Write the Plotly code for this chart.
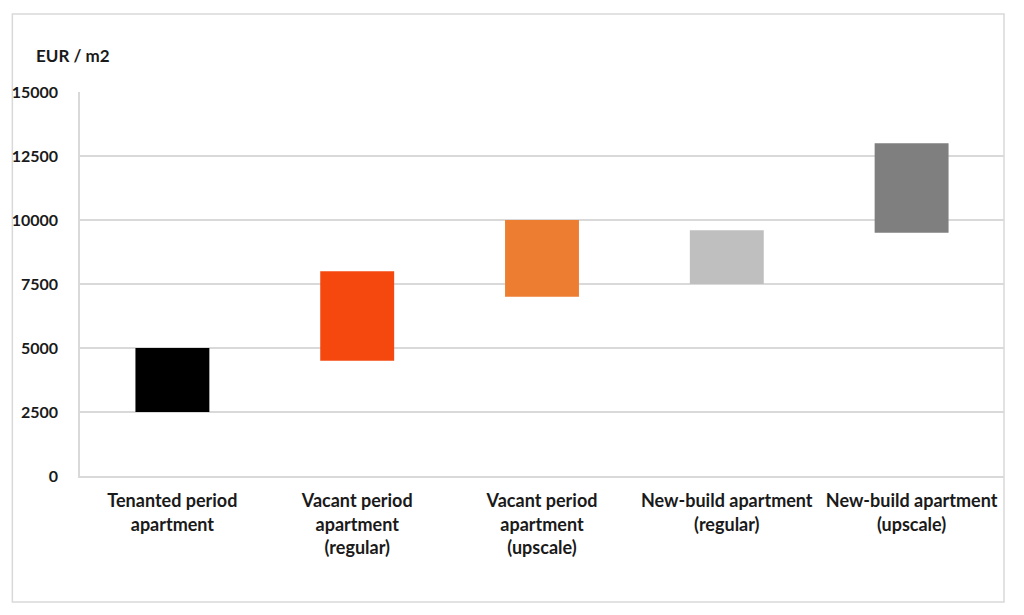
import plotly.graph_objects as go

categories = [
    "Tenanted period<br>apartment",
    "Vacant period<br>apartment<br>(regular)",
    "Vacant period<br>apartment<br>(upscale)",
    "New-build apartment<br>(regular)",
    "New-build apartment<br>(upscale)",
]
low_values = [2500, 4500, 7000, 7500, 9500]
high_values = [5000, 8000, 10000, 9600, 13000]
bar_colors = ["#000000", "#F4480F", "#ED7D31", "#BFBFBF", "#7F7F7F"]
y_ticks = [0, 2500, 5000, 7500, 10000, 12500, 15000]

spans = [h - l for h, l in zip(high_values, low_values)]

fig = go.Figure(
    go.Bar(
        x=categories,
        y=spans,
        base=low_values,
        marker=dict(color=bar_colors, line=dict(width=0)),
        width=0.4,
        hoverinfo="skip",
    )
)

font_family = "Lato, 'Open Sans', sans-serif"

fig.update_layout(
    width=1024,
    height=615,
    margin=dict(l=75, r=20, t=92, b=139),
    paper_bgcolor="white",
    plot_bgcolor="white",
    showlegend=False,
    font=dict(family=font_family, size=16, color="#1a1a1a"),
    xaxis=dict(
        showgrid=False,
        showline=True,
        linecolor="#D9D9D9",
        linewidth=1.5,
        ticks="",
        tickfont=dict(family=font_family, size=18, color="#1a1a1a", weight="bold"),
        ticklabelstandoff=8,
    ),
    yaxis=dict(
        range=[0, 15000],
        tickvals=y_ticks,
        ticktext=[str(v) for v in y_ticks],
        showgrid=True,
        gridcolor="#D9D9D9",
        gridwidth=1.5,
        showline=True,
        linecolor="#D9D9D9",
        linewidth=1.5,
        zeroline=False,
        ticks="",
        ticklabelstandoff=17,
        tickfont=dict(family=font_family, size=16, color="#1a1a1a", weight="bold"),
    ),
    annotations=[
        dict(
            text="<b>EUR / m2</b>",
            xref="paper",
            yref="paper",
            x=-0.0495,
            y=1.094,
            xanchor="left",
            yanchor="middle",
            showarrow=False,
            font=dict(family=font_family, size=17, color="#1a1a1a"),
        )
    ],
    shapes=[
        dict(
            type="rect",
            xref="paper",
            yref="paper",
            x0=-0.0732,
            x1=1.0,
            y0=-0.328,
            y1=1.203,
            line=dict(color="#D9D9D9", width=1.5),
            fillcolor="rgba(0,0,0,0)",
            layer="below",
        )
    ],
)

fig.write_html(
    "out.html",
    config={"displayModeBar": False},
    post_script="document.body.style.margin='0';",
)
